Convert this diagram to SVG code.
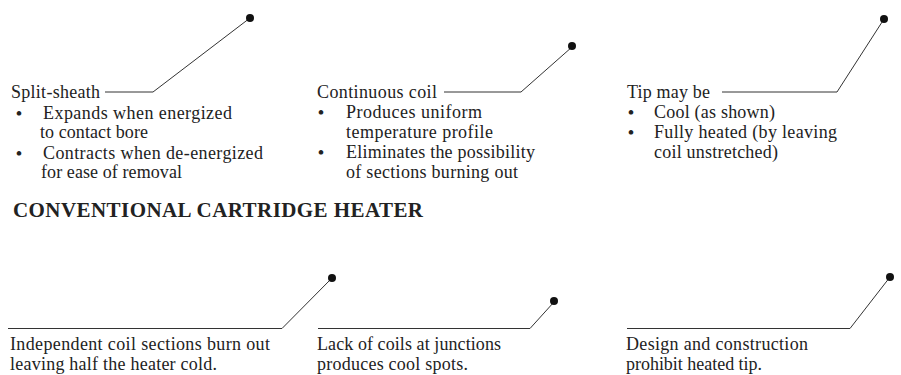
<svg xmlns="http://www.w3.org/2000/svg" width="901" height="375" viewBox="0 0 901 375">
<style>
text{font-family:"Liberation Serif","Times New Roman",serif;font-size:18px;fill:#222}
.h{font-weight:bold;font-size:21px}
.b{font-size:17px;font-weight:bold}
.ln{fill:none;stroke:#333;stroke-width:1}
.dot{fill:#111}
</style>
<rect width="901" height="375" fill="#fff"/>
<g id="connectors">
<polyline class="ln" points="105,92 153,92 250,18"/>
<polyline class="ln" points="444,92 521,92 572,47"/>
<polyline class="ln" points="722,92 837,92 884,19"/>
<polyline class="ln" points="8,328.5 282,328.5 332,278"/>
<polyline class="ln" points="318,328.5 530,328.5 554,302"/>
<polyline class="ln" points="627,328.5 850,328.5 890,277"/>
<circle class="dot" cx="250" cy="18" r="4"/>
<circle class="dot" cx="572" cy="46" r="4"/>
<circle class="dot" cx="884" cy="19" r="4"/>
<circle class="dot" cx="332" cy="278" r="4"/>
<circle class="dot" cx="554" cy="301" r="4"/>
<circle class="dot" cx="890" cy="277" r="4"/>
</g>
<g id="split-sheath">
<text x="11" y="98" textLength="89">Split-sheath</text>
<text class="b" x="16" y="119">•</text>
<text x="43" y="119" textLength="189">Expands when energized</text>
<text x="40" y="138" textLength="108">to contact bore</text>
<text class="b" x="16" y="159">•</text>
<text x="43" y="159" textLength="220">Contracts when de-energized</text>
<text x="41" y="178" textLength="141">for ease of removal</text>
</g>
<g id="continuous-coil">
<text x="317" y="98" textLength="120">Continuous coil</text>
<text class="b" x="318" y="118">•</text>
<text x="346" y="118" textLength="136">Produces uniform</text>
<text x="346" y="138" textLength="147">temperature profile</text>
<text class="b" x="318" y="158">•</text>
<text x="346" y="158" textLength="189">Eliminates the possibility</text>
<text x="346" y="178" textLength="172">of sections burning out</text>
</g>
<g id="tip">
<text x="627" y="98" textLength="83">Tip may be</text>
<text class="b" x="628" y="118">•</text>
<text x="654" y="118" textLength="121">Cool (as shown)</text>
<text class="b" x="628" y="138">•</text>
<text x="654" y="138" textLength="183">Fully heated (by leaving</text>
<text x="654" y="158" textLength="124">coil unstretched)</text>
</g>
<g id="heading">
<text class="h" x="13" y="217" textLength="410">CONVENTIONAL CARTRIDGE HEATER</text>
</g>
<g id="independent-coil">
<text x="10" y="350" textLength="260">Independent coil sections burn out</text>
<text x="10" y="370" textLength="207">leaving half the heater cold.</text>
</g>
<g id="lack-of-coils">
<text x="317" y="350" textLength="184">Lack of coils at junctions</text>
<text x="317" y="370" textLength="151">produces cool spots.</text>
</g>
<g id="design">
<text x="626" y="350" textLength="182">Design and construction</text>
<text x="626" y="370" textLength="136">prohibit heated tip.</text>
</g>
</svg>
